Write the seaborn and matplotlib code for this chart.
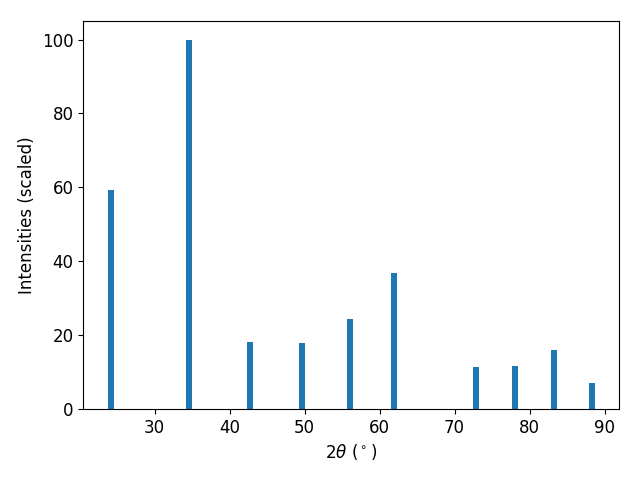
import numpy as np
import pandas as pd
import matplotlib
matplotlib.use("Agg")
import matplotlib.pyplot as plt
import seaborn as sns

# peak positions (2theta, degrees) and scaled intensities
two_theta = [24.13, 34.53, 42.67, 49.6, 56.0, 61.87, 72.8, 78.13, 83.2, 88.27]
intensity = [59.2, 100.0, 18.2, 17.9, 24.4, 36.8, 11.4, 11.7, 16.0, 7.0]

df = pd.DataFrame({"two_theta": two_theta, "intensity": intensity})

plt.rcParams["font.size"] = 12

fig, ax = plt.subplots(figsize=(6.4, 4.8), dpi=100)

# seaborn scales width by the smallest gap when native_scale is on
min_gap = np.min(np.diff(np.sort(two_theta)))

sns.barplot(
    data=df,
    x="two_theta",
    y="intensity",
    native_scale=True,
    width=0.8 / min_gap,
    color="#1f77b4",
    saturation=1,
    errorbar=None,
    ax=ax
)

ax.set_xlabel(r"$2\theta$ ($^\circ$)")
ax.set_ylabel("Intensities (scaled)")
ax.set_xticks([30, 40, 50, 60, 70, 80, 90])

fig.subplots_adjust(left=0.13, right=0.967, top=0.956, bottom=0.148)
fig.savefig("out.png", dpi=100)
